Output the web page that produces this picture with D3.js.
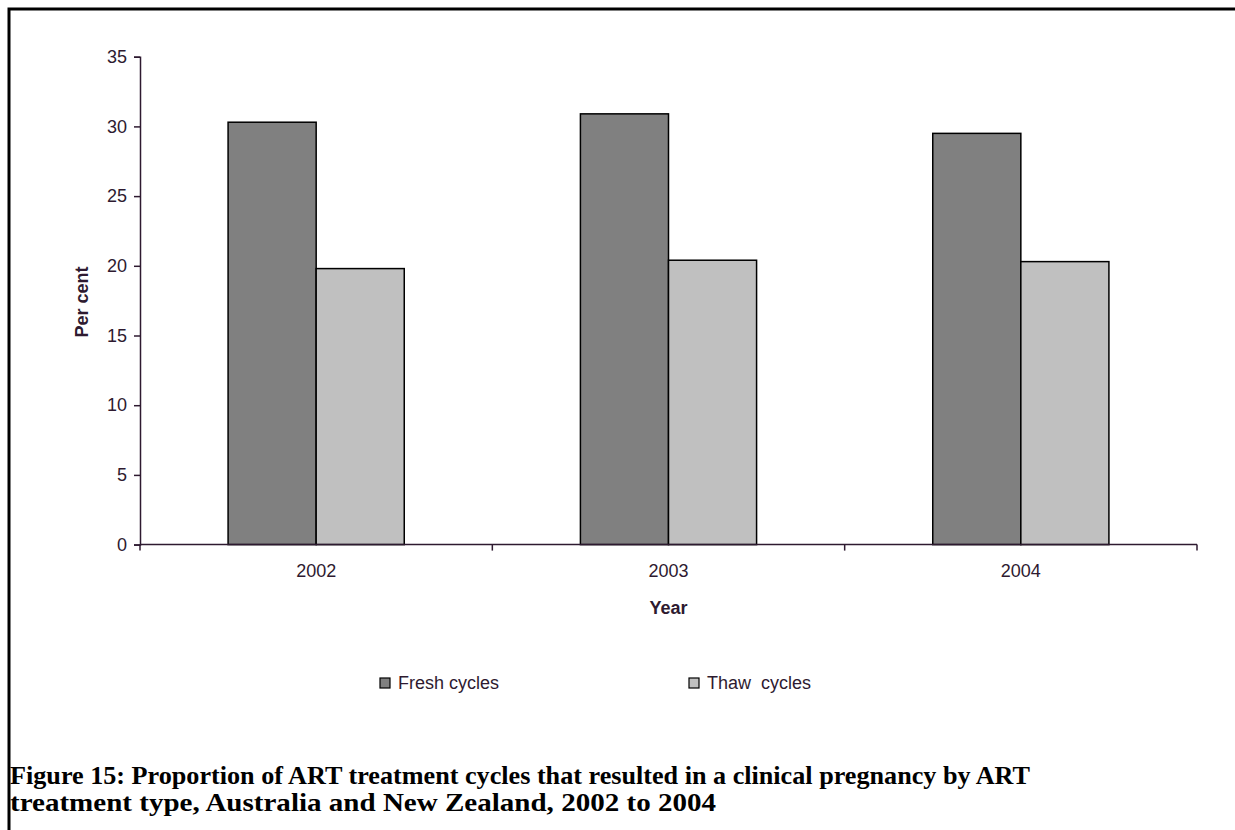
<!DOCTYPE html>
<html><head><meta charset="utf-8">
<script src="https://cdn.jsdelivr.net/npm/d3@7"></script>
<style>body{margin:0;background:#fff;}svg{display:block;}</style>
</head><body>
<script>
const years = ["2002", "2003", "2004"];
const seriesNames = ["Fresh cycles", "Thaw cycles"];
const legendLabels = ["Fresh cycles", "Thaw  cycles"];
const fresh = [30.3, 30.9, 29.5];
const thaw = [19.8, 20.4, 20.3];
const yTicks = [0, 5, 10, 15, 20, 25, 30, 35];
const colors = ["#808080", "#c0c0c0"];
const caption = ["Figure 15: Proportion of ART treatment cycles that resulted in a clinical pregnancy by ART",
                 "treatment type, Australia and New Zealand, 2002 to 2004"];

(function(){
const W = 1235, H = 830;
const axisColor = "#2e1a30";
const sans = "Liberation Sans, Arial, sans-serif";
const svg = d3.select("body").append("svg").attr("width", W).attr("height", H);
svg.append("rect").attr("width", W).attr("height", H).attr("fill", "#fff");
svg.append("path").attr("d", `M9,${H+5} L9,9 L${W+5},9`).attr("fill","none").attr("stroke","#000").attr("stroke-width",3);

const pLeft = 140, pRight = 1197, pTop = 56.7, pBottom = 544.6;
const x = d3.scaleBand().domain(years).range([pLeft, pRight]).paddingInner(0.5).paddingOuter(0.25);
const x1 = d3.scaleBand().domain(seriesNames).range([0, x.bandwidth()]);
const y = d3.scaleLinear().domain([0, 35]).range([pBottom, pTop]);

const data = years.map((yr, i) => ({year: yr, vals: [fresh[i], thaw[i]]}));
const g = svg.append("g");
data.forEach(d => {
  d.vals.forEach((v, j) => {
    g.append("rect")
      .attr("x", x(d.year) + x1(seriesNames[j]))
      .attr("y", y(v))
      .attr("width", x1.bandwidth())
      .attr("height", y(0) - y(v))
      .attr("fill", colors[j]).attr("stroke", "#000").attr("stroke-width", 1.5);
  });
});

const yAxis = svg.append("g").attr("transform", `translate(${pLeft},0)`)
  .call(d3.axisLeft(y).tickValues(yTicks).tickSize(6).tickPadding(7));
yAxis.select(".domain").attr("stroke", axisColor).attr("stroke-width", 1.5);
yAxis.selectAll(".tick line").attr("stroke", axisColor).attr("stroke-width", 1.5);
yAxis.selectAll("text").attr("font-family", sans).attr("font-size", 18).attr("fill", axisColor);

const step = x.step();
const bounds = [pLeft, ...years.slice(1).map(yr => x(yr) - step * x.paddingInner() / 2), pRight];
svg.append("line").attr("x1", pLeft).attr("x2", pRight).attr("y1", pBottom).attr("y2", pBottom)
  .attr("stroke", axisColor).attr("stroke-width", 1.5);
bounds.forEach(b => svg.append("line").attr("x1", b).attr("x2", b).attr("y1", pBottom).attr("y2", pBottom + 6)
  .attr("stroke", axisColor).attr("stroke-width", 1.5));
years.forEach(yr => svg.append("text").attr("x", x(yr) + x.bandwidth()/2).attr("y", 577)
  .attr("text-anchor", "middle").attr("font-family", sans)
  .attr("font-size", 18).attr("fill", axisColor).text(yr));

svg.append("text").attr("x", (pLeft + pRight)/2).attr("y", 614).attr("text-anchor", "middle")
  .attr("font-family", sans).attr("font-weight", "bold")
  .attr("font-size", 18).attr("fill", axisColor).text("Year");
svg.append("text").attr("transform", `translate(88,302) rotate(-90)`).attr("text-anchor", "middle")
  .attr("font-family", sans).attr("font-weight", "bold")
  .attr("font-size", 18).attr("fill", axisColor).text("Per cent");

const legX = [380, 689];
seriesNames.forEach((s, j) => {
  svg.append("rect").attr("x", legX[j]).attr("y", 678).attr("width", 10).attr("height", 10)
    .attr("fill", colors[j]).attr("stroke", "#000").attr("stroke-width", 1.2);
  svg.append("text").attr("x", legX[j] + 18).attr("y", 689)
    .attr("font-family", sans).attr("font-size", 18)
    .attr("fill", axisColor).style("white-space","pre").text(legendLabels[j]);
});

const capLens = [1020, 706];
caption.forEach((c, i) => svg.append("text").attr("x", 10).attr("y", 784 + i * 27)
  .attr("font-family", "Liberation Serif, Times New Roman, serif").attr("font-weight", "bold")
  .attr("font-size", 25).attr("fill", "#000")
  .attr("textLength", capLens[i]).attr("lengthAdjust", "spacingAndGlyphs").text(c));
})();
</script>
</body></html>
